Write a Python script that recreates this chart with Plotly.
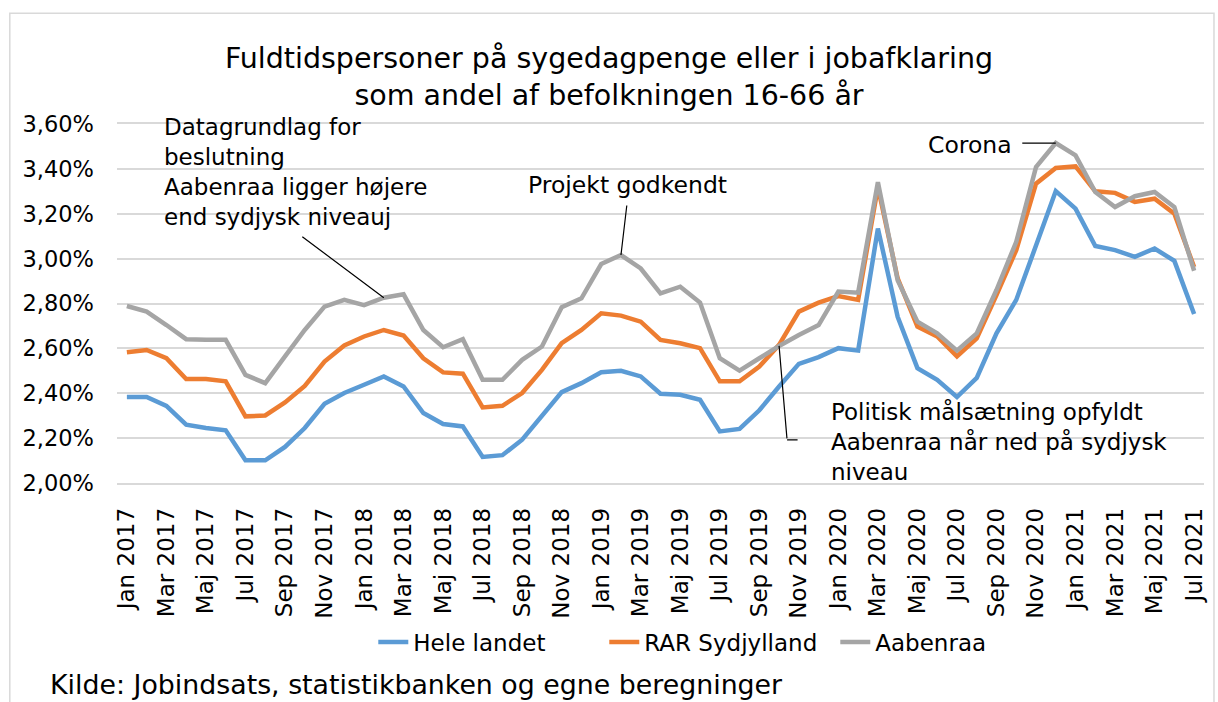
import plotly.graph_objects as go

months = [
    "Jan 2017", "Feb 2017", "Mar 2017", "Apr 2017", "Maj 2017", "Jun 2017",
    "Jul 2017", "Aug 2017", "Sep 2017", "Okt 2017", "Nov 2017", "Dec 2017",
    "Jan 2018", "Feb 2018", "Mar 2018", "Apr 2018", "Maj 2018", "Jun 2018",
    "Jul 2018", "Aug 2018", "Sep 2018", "Okt 2018", "Nov 2018", "Dec 2018",
    "Jan 2019", "Feb 2019", "Mar 2019", "Apr 2019", "Maj 2019", "Jun 2019",
    "Jul 2019", "Aug 2019", "Sep 2019", "Okt 2019", "Nov 2019", "Dec 2019",
    "Jan 2020", "Feb 2020", "Mar 2020", "Apr 2020", "Maj 2020", "Jun 2020",
    "Jul 2020", "Aug 2020", "Sep 2020", "Okt 2020", "Nov 2020", "Dec 2020",
    "Jan 2021", "Feb 2021", "Mar 2021", "Apr 2021", "Maj 2021", "Jun 2021",
    "Jul 2021",
]

hele_landet = [
    2.383, 2.383, 2.344, 2.260, 2.245, 2.235, 2.101, 2.101, 2.161, 2.245, 2.353, 2.401,
    2.438, 2.475, 2.430, 2.312, 2.263, 2.252, 2.116, 2.124, 2.193, 2.297, 2.405, 2.445,
    2.494, 2.500, 2.475, 2.398, 2.393, 2.371, 2.230, 2.241, 2.324, 2.430, 2.531, 2.561,
    2.601, 2.590, 3.134, 2.741, 2.512, 2.460, 2.383, 2.468, 2.667, 2.816, 3.060, 3.301,
    3.223, 3.056, 3.038, 3.008, 3.045, 2.990, 2.753,
]

rar_sydjylland = [
    2.583, 2.593, 2.556, 2.463, 2.463, 2.453, 2.297, 2.301, 2.359, 2.433, 2.541, 2.613,
    2.653, 2.682, 2.657, 2.556, 2.493, 2.487, 2.337, 2.344, 2.401, 2.504, 2.623, 2.682,
    2.756, 2.746, 2.719, 2.638, 2.623, 2.601, 2.453, 2.453, 2.519, 2.616, 2.764, 2.804,
    2.833, 2.816, 3.319, 2.912, 2.697, 2.653, 2.564, 2.645, 2.838, 3.038, 3.334, 3.404,
    3.411, 3.300, 3.293, 3.253, 3.267, 3.200, 2.963,
]

aabenraa = [
    2.789, 2.764, 2.704, 2.641, 2.638, 2.638, 2.482, 2.445, 2.564, 2.682, 2.786, 2.816,
    2.793, 2.826, 2.841, 2.682, 2.605, 2.641, 2.460, 2.460, 2.549, 2.608, 2.783, 2.823,
    2.976, 3.016, 2.956, 2.845, 2.875, 2.804, 2.556, 2.501, 2.556, 2.611, 2.660, 2.704,
    2.853, 2.848, 3.341, 2.904, 2.719, 2.667, 2.590, 2.667, 2.860, 3.075, 3.408, 3.515,
    3.460, 3.297, 3.230, 3.278, 3.297, 3.230, 2.946,
]

y_tick_values = [2.0, 2.2, 2.4, 2.6, 2.8, 3.0, 3.2, 3.4, 3.6]
y_tick_labels = ["2,00%", "2,20%", "2,40%", "2,60%", "2,80%", "3,00%", "3,20%", "3,40%", "3,60%"]
x_tick_values = months[::2]

series_names = ["Hele landet", "RAR Sydjylland", "Aabenraa"]
series_colors = ["#5B9BD5", "#ED7D31", "#A5A5A5"]

FONT = "DejaVu Sans"

fig = go.Figure()
for name, vals, color in zip(series_names, [hele_landet, rar_sydjylland, aabenraa], series_colors):
    fig.add_trace(go.Scatter(
        x=months, y=vals, mode="lines", name=name,
        line=dict(color=color, width=4.5),
    ))

W, H = 1218, 702
ML, MR, MT, MB = 117, 11, 123.5, 218.5
PW = W - ML - MR
PH = H - MT - MB


def px_x(px):
    return (px - ML) / PW


def px_y(py):
    return (H - MB - py) / PH


arrow_common = dict(text="", showarrow=True, arrowhead=0, arrowwidth=1.2,
                    arrowcolor="black", standoff=0, xref="x", yref="y")

annotations = [
    dict(x=months[13], y=aabenraa[13], ax=-83, ay=-62, **arrow_common),
    dict(x=months[25], y=aabenraa[25], ax=6, ay=-51, **arrow_common),
    dict(x=months[47], y=aabenraa[47], ax=-35, ay=0, **arrow_common),
    dict(x=months[33], y=aabenraa[33], ax=8, ay=94, **arrow_common),
    dict(x=months[33], y=aabenraa[33], ax=12, ay=0, xshift=8, yshift=-94, **arrow_common),
    dict(text="Datagrundlag for<br>beslutning<br>Aabenraa ligger højere<br>end sydjysk niveauj",
         xref="paper", yref="paper", x=px_x(162), y=px_y(171.5), xanchor="left", yanchor="middle",
         align="left", showarrow=False, font=dict(size=23, color="black", family=FONT)),
    dict(text="Projekt godkendt", xref="paper", yref="paper", x=px_x(629), y=px_y(185),
         xanchor="center", yanchor="middle", showarrow=False,
         font=dict(size=23.5, color="black", family=FONT)),
    dict(text="Corona", xref="paper", yref="paper", x=px_x(972), y=px_y(145),
         xanchor="center", yanchor="middle", showarrow=False,
         font=dict(size=23.5, color="black", family=FONT)),
    dict(text="Politisk målsætning opfyldt<br>Aabenraa når ned på sydjysk<br>niveau",
         xref="paper", yref="paper", x=px_x(831), y=px_y(441.5), xanchor="left", yanchor="middle",
         align="left", showarrow=False, font=dict(size=23, color="black", family=FONT)),
    dict(text="Kilde: Jobindsats, statistikbanken og egne beregninger",
         xref="paper", yref="paper", x=px_x(48), y=px_y(686), xanchor="left", yanchor="middle",
         showarrow=False, font=dict(size=26.8, color="black", family=FONT)),
]

fig.update_layout(
    width=W, height=H,
    margin=dict(l=ML, r=MR, t=MT, b=MB, pad=0),
    paper_bgcolor="white", plot_bgcolor="white",
    font=dict(family=FONT, color="black"),
    title=dict(
        text="Fuldtidspersoner på sygedagpenge eller i jobafklaring<br>som andel af befolkningen 16-66 år",
        x=0.5, xref="container", xanchor="center",
        y=1 - 68 / H, yref="container", yanchor="middle",
        font=dict(size=28.5, color="black", family=FONT),
    ),
    xaxis=dict(
        type="category", range=[-0.5, len(months) - 0.5],
        tickmode="array", tickvals=x_tick_values, ticktext=x_tick_values,
        tickangle=-90, ticks="", showgrid=False, zeroline=False,
        showline=True, mirror=True, linecolor="#d9d9d9", linewidth=1.5,
        tickfont=dict(size=23, color="black", family=FONT),
        ticklabelstandoff=14,
    ),
    yaxis=dict(
        range=[2.0, 3.6], tickmode="array", tickvals=y_tick_values, ticktext=y_tick_labels,
        ticks="", showgrid=True, gridcolor="#d9d9d9", gridwidth=1.5,
        zeroline=False, showline=False,
        tickfont=dict(size=22.5, color="black", family=FONT),
        ticklabelstandoff=22,
    ),
    legend=dict(
        orientation="h", x=px_x(374), xanchor="left", y=px_y(643), yanchor="middle",
        entrywidth=186, entrywidthmode="pixels",
        font=dict(size=23, color="black", family=FONT), bgcolor="rgba(0,0,0,0)",
    ),
    annotations=annotations,
    shapes=[dict(type="rect", xref="paper", yref="paper",
                 x0=px_x(9.5), x1=px_x(1217), y0=px_y(712), y1=px_y(12.5),
                 line=dict(color="#d9d9d9", width=1.5), layer="below")],
    showlegend=True,
)

fig.write_html("out.html", config={"displayModeBar": False},
               post_script="document.body.style.margin='0';")
